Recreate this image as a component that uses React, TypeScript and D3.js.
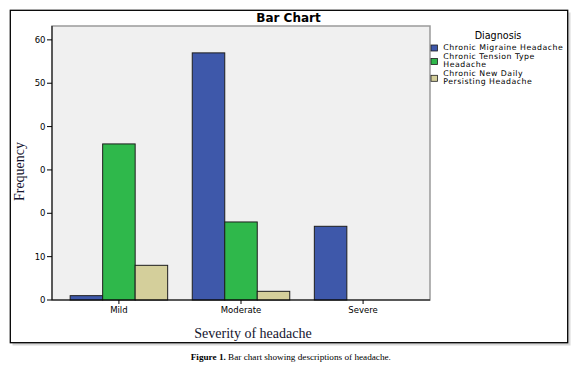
import React from "react";
import { scaleBand, scaleLinear } from "d3";

const categories = ["Mild", "Moderate", "Severe"];
const series = [
  "Chronic Migraine Headache",
  "Chronic Tension Type Headache",
  "Chronic New Daily Persisting Headache",
];
const migraine = [1, 57, 17];
const tension = [36, 18, 0];
const newDaily = [8, 2, 0];
const values = [migraine, tension, newDaily];
const colors = ["#3e58aa", "#2fb84b", "#d4cf9b"];
const legendLines = [
  ["Chronic Migraine Headache"],
  ["Chronic Tension Type", "Headache"],
  ["Chronic New Daily", "Persisting Headache"],
];
const yTicks = [0, 10, 20, 30, 40, 50, 60];
// tick labels as they appear in the picture
const yTickLabels = ["0", "10", "0", "0", "0", "50", "60"];

const W = 579;
const H = 367;
const plot = { left: 52, right: 430, top: 26, bottom: 300 };

export default function App() {
  const x = scaleBand()
    .domain(categories)
    .range([plot.left, plot.right])
    .paddingInner(0)
    .paddingOuter(0.048);
  const sub = scaleBand()
    .domain(series)
    .range([-48.75, 48.75]);
  const y = scaleLinear().domain([0, 63.2]).range([plot.bottom, plot.top]);

  const legendY = [50.2, 58.8, 76.3];
  const swatchY = [45, 58.5, 75.3];

  return (
    <div>
      <style>{`body{margin:0}`}</style>
      <svg width={W} height={H} style={{ display: "block" }}>
        <rect width={W} height={H} fill="#fff" />
        {/* frame with shadow */}
        <rect x={12.5} y={12.5} width={558} height={333} fill="#c8c8c8" opacity={0.7} />
        <rect x={10.3} y={10.3} width={557.4} height={332.4} fill="#fff" stroke="#000" strokeWidth={1.3} />

        <text
          x={288.5}
          y={21.5}
          textAnchor="middle"
          fontFamily="DejaVu Sans"
          fontWeight="bold"
          fontSize={12}
        >
          Bar Chart
        </text>

        {/* plot area */}
        <rect
          x={plot.left}
          y={plot.top}
          width={plot.right - plot.left}
          height={plot.bottom - plot.top}
          fill="#f0f0f0"
          stroke="#9a9a9a"
          strokeWidth={1.5}
        />

        {values.map((vals, si) =>
          categories.map((c, ci) => {
            const v = vals[ci];
            if (!v) return null;
            const bx = (x(c) as number) + x.bandwidth() / 2 + (sub(series[si]) as number);
            return (
              <rect
                key={`${si}-${ci}`}
                x={bx}
                y={y(v)}
                width={sub.bandwidth()}
                height={y(0) - y(v)}
                fill={colors[si]}
                stroke="#1e1e1e"
                strokeWidth={1}
              />
            );
          })
        )}

        {/* axes */}
        <line x1={plot.left} x2={plot.left} y1={plot.top} y2={plot.bottom} stroke="#000" strokeWidth={1} />
        <line x1={plot.left} x2={plot.right} y1={plot.bottom} y2={plot.bottom} stroke="#000" strokeWidth={1.2} />
        {yTicks.map((t, i) => (
          <g key={t}>
            <line x1={plot.left - 5} x2={plot.left} y1={y(t)} y2={y(t)} stroke="#000" />
            <text
              x={plot.left - 6.5}
              y={y(t) + 3}
              textAnchor="end"
              fontFamily="DejaVu Sans"
              fontSize={8.5}
            >
              {yTickLabels[i]}
            </text>
          </g>
        ))}
        {categories.map((c) => {
          const cx = (x(c) as number) + x.bandwidth() / 2;
          return (
            <g key={c}>
              <line x1={cx} x2={cx} y1={plot.bottom} y2={plot.bottom + 4} stroke="#000" />
              <text x={cx} y={312.7} textAnchor="middle" fontFamily="DejaVu Sans" fontSize={8.5}>
                {c}
              </text>
            </g>
          );
        })}

        <text
          transform="translate(23.5,171.5) rotate(-90)"
          textAnchor="middle"
          fontFamily="Liberation Serif"
          fontSize={14}
          fill="#14142e"
        >
          Frequency
        </text>
        <text
          x={253}
          y={338}
          textAnchor="middle"
          fontFamily="Liberation Serif"
          fontSize={14}
          fill="#14142e"
        >
          Severity of headache
        </text>

        {/* legend */}
        <text x={498} y={39} textAnchor="middle" fontFamily="DejaVu Sans" fontSize={9.6}>
          Diagnosis
        </text>
        {legendLines.map((lines, i) => (
          <g key={i}>
            <rect
              x={431}
              y={swatchY[i]}
              width={6.5}
              height={6}
              fill={colors[i]}
              stroke="#1e1e1e"
              strokeWidth={0.8}
            />
            {lines.map((ln, j) => (
              <text
                key={j}
                x={443.3}
                y={legendY[i] + j * 7.7}
                fontFamily="DejaVu Sans"
                fontSize={7.8}
                letterSpacing={0.5}
              >
                {ln}
              </text>
            ))}
          </g>
        ))}

        {/* caption */}
        <text x={290.8} y={360} textAnchor="middle" fontFamily="Liberation Serif" fontSize={9.2}>
          <tspan fontWeight="bold">Figure 1.</tspan>
          <tspan> Bar chart showing descriptions of headache.</tspan>
        </text>
      </svg>
    </div>
  );
}
